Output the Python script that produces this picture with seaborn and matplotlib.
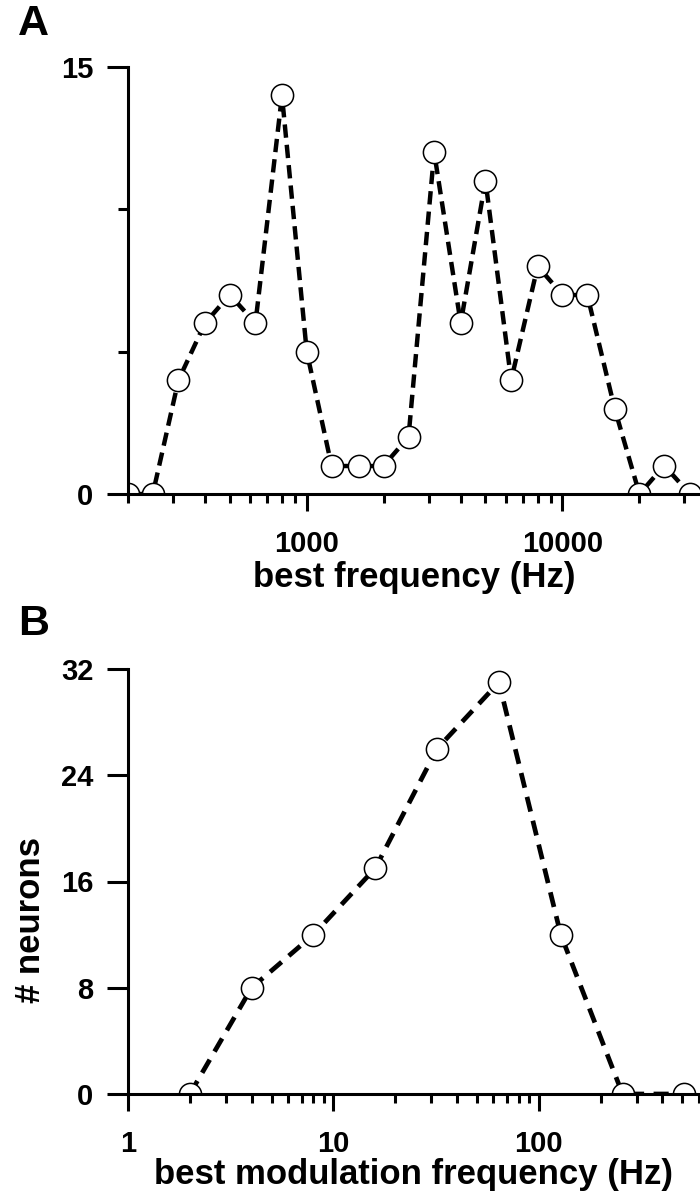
import numpy as np
import pandas as pd
import matplotlib
matplotlib.use("Agg")
import matplotlib.pyplot as plt
import seaborn as sns
from matplotlib.ticker import FixedLocator, NullFormatter, FuncFormatter

# panel A: best frequency, third-octave bins
bf_hz = [200, 250, 315, 400, 500, 630, 800, 1000, 1250, 1600, 2000, 2500,
         3150, 4000, 5000, 6300, 8000, 10000, 12500, 16000, 20000, 25000, 31500]
bf_counts = [0, 0, 4, 6, 7, 6, 14, 5, 1, 1, 1, 2,
             12, 6, 11, 4, 8, 7, 7, 3, 0, 1, 0]

# panel B: best modulation frequency, octave bins
bmf_hz = [2, 4, 8, 16, 32, 64, 128, 256, 512]
bmf_counts = [0, 8, 12, 17, 26, 31, 12, 0, 0]

sns.set_theme(style="ticks")
plt.rcParams["font.family"] = ["Liberation Sans", "DejaVu Sans"]
plt.rcParams["font.weight"] = "bold"
plt.rcParams["text.color"] = "black"
plt.rcParams["axes.labelcolor"] = "black"
plt.rcParams["xtick.color"] = "black"
plt.rcParams["ytick.color"] = "black"

fig = plt.figure(figsize=(7, 12), dpi=100)
axA = fig.add_axes([128/700, 1-494/1200, 572/700, 427/1200])
axB = fig.add_axes([128/700, 1-1094/1200, 572/700, 425/1200])

LW = 3.2
MS = 16
TICK_FS = 21
LABEL_FS = 25


def style_axis(ax):
    for s in ["top", "right"]:
        ax.spines[s].set_visible(False)
    for s in ["left", "bottom"]:
        ax.spines[s].set_linewidth(2.2)
        ax.spines[s].set_color("black")
    ax.tick_params(which="both", direction="out", width=2.2, color="black",
                   labelsize=TICK_FS, labelcolor="black")
    ax.tick_params(axis="y", which="major", length=15, pad=10)
    ax.tick_params(axis="y", which="minor", length=7.5)
    ax.tick_params(axis="x", which="major", length=12, pad=14)
    ax.tick_params(axis="x", which="minor", length=6.5)
    for lab in ax.get_xticklabels() + ax.get_yticklabels():
        lab.set_fontweight("bold")


# --- A ---
dash_a = (0, (0.35, 1.6) + (3.0, 1.6) * 40)
for i in range(len(bf_hz) - 1):
    sns.lineplot(x=bf_hz[i:i+2], y=bf_counts[i:i+2], ax=axA, color="black",
                 lw=LW, linestyle=dash_a, zorder=2)
sns.scatterplot(x=bf_hz, y=bf_counts, ax=axA, s=MS**2, color="white",
                edgecolor="black", linewidth=1.1, zorder=2.2, legend=False)
axA.set_xscale("log")
axA.set_xlim(200, 34500)
axA.set_ylim(0, 15)
axA.set_yticks([0, 15])
axA.yaxis.set_minor_locator(FixedLocator([5, 10]))
axA.xaxis.set_major_locator(FixedLocator([1000, 10000]))
axA.xaxis.set_major_formatter(FuncFormatter(lambda v, p: f"{int(v)}"))
axA.xaxis.set_minor_locator(FixedLocator([m * d for d in [100, 1000, 10000] for m in range(2, 10)]))
axA.xaxis.set_minor_formatter(NullFormatter())
axA.set_xlabel("best frequency (Hz)", fontsize=LABEL_FS, fontweight="bold", labelpad=2)
axA.set_ylabel("")
style_axis(axA)

# --- B ---
sns.lineplot(x=bmf_hz, y=bmf_counts, ax=axB, color="black", lw=3.4,
             linestyle=(0, (3.2, 2.0)), marker="o", markersize=MS,
             markerfacecolor="white", markeredgecolor="black", markeredgewidth=1.1)
axB.set_xscale("log")
axB.set_xlim(1, 610)
axB.set_ylim(0, 32)
axB.set_yticks([0, 8, 16, 24, 32])
axB.xaxis.set_major_locator(FixedLocator([1, 10, 100]))
axB.xaxis.set_major_formatter(FuncFormatter(lambda v, p: f"{int(v)}"))
axB.xaxis.set_minor_locator(FixedLocator([m * d for d in [1, 10, 100] for m in range(2, 10)]))
axB.xaxis.set_minor_formatter(NullFormatter())
axB.set_xlabel("best modulation frequency (Hz)", fontsize=LABEL_FS, fontweight="bold", labelpad=0)
axB.set_ylabel("# neurons", fontsize=LABEL_FS, fontweight="bold")
axB.yaxis.set_label_coords(-0.142, 0.41)
style_axis(axB)

fig.text(18/700, 1-4/1200, "A", fontsize=31, fontweight="bold", va="top", ha="left")
fig.text(18/700, 1-604/1200, "B", fontsize=31, fontweight="bold", va="top", ha="left")

fig.savefig("out.png", dpi=100)
